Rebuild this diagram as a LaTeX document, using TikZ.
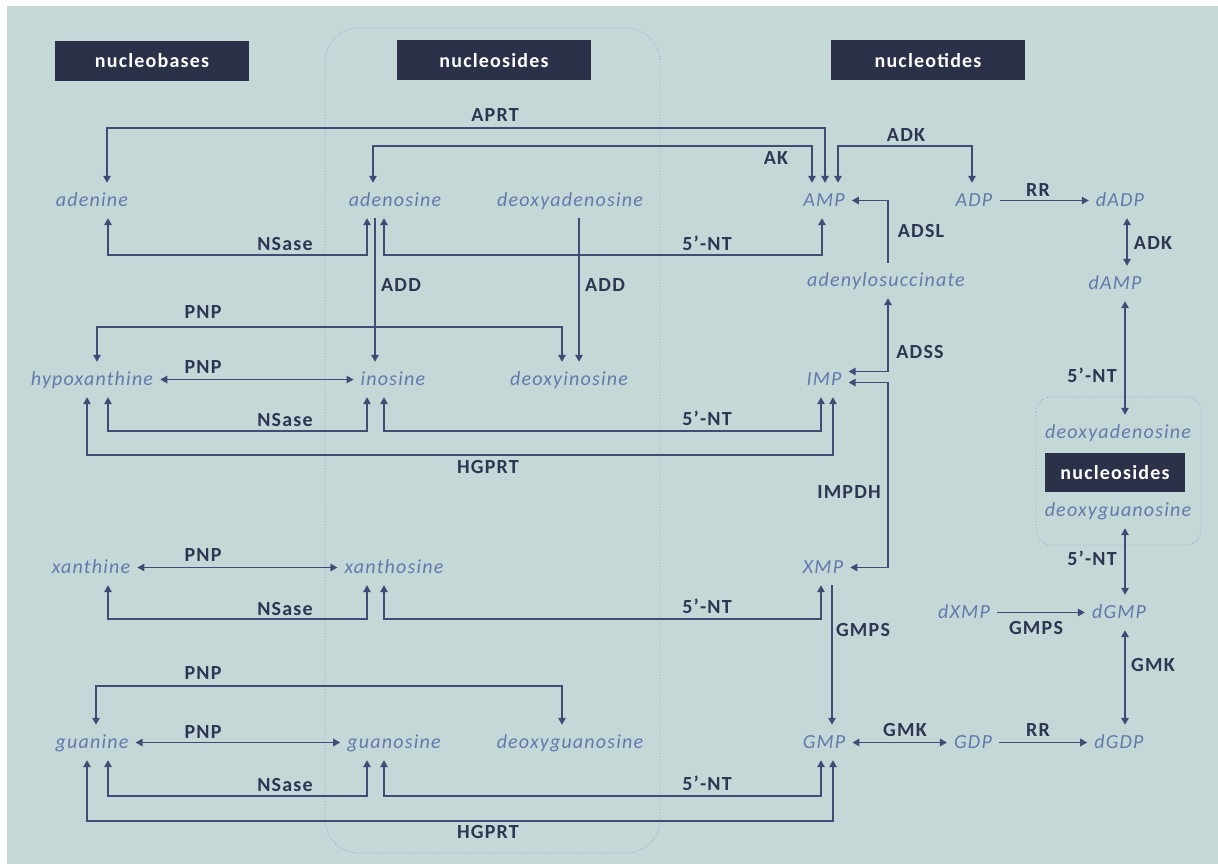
\documentclass[tikz,border=0pt]{standalone}
\usepackage{fontspec}
\setmainfont{Carlito}
\newfontfamily\spf[LetterSpace=6]{Carlito}
\usetikzlibrary{arrows.meta}
\definecolor{bgc}{HTML}{C5D8D8}
\definecolor{spc}{HTML}{6479AC}
\definecolor{linec}{HTML}{3E4D75}
\definecolor{lblc}{HTML}{2D3652}
\definecolor{hdrc}{HTML}{2B3148}
\definecolor{boxc}{HTML}{8FA6CF}
\begin{document}
\begin{tikzpicture}[x=1pt,y=-1pt,
  >={Triangle[length=7pt,width=7.5pt]},
  sp/.style={anchor=base,font=\spf\itshape\fontsize{20}{24}\selectfont,text=spc,
     text height=22pt,text depth=11pt,inner ysep=1pt,inner xsep=7pt},
  lbl/.style={font=\spf\bfseries\fontsize{20}{24}\selectfont,text=lblc,inner sep=0pt},
  hdr/.style={fill=hdrc,text=white,font=\spf\bfseries\fontsize{20}{24}\selectfont,
     minimum width=194pt,minimum height=40pt,inner sep=0pt},
  con/.style={draw=linec,line width=1.4pt},
  grp/.style={draw=boxc,dotted,line width=0.8pt}]
\useasboundingbox (0,0) rectangle (1218,864);
\fill[bgc] (7,6) rectangle (1218,864);
% group boxes
\draw[grp,rounded corners=34pt] (325,28) rectangle (660,853);
\draw[grp,rounded corners=15pt] (1036,397) rectangle (1201,545);
% headers
\node[hdr] (hb) at (152,61) {nucleobases};
\node[hdr] (hs) at (494,60.5) {nucleosides};
\node[hdr] (ht) at (928,60.5) {nucleotides};
\node[hdr,minimum width=140pt,minimum height=39pt] (hs2) at (1115,472.5) {nucleosides};
% species
\node[sp] (adenine) at (92,206) {adenine};
\node[sp] (adenosine) at (395,206) {adenosine};
\node[sp] (dAdo) at (570,206) {deoxyadenosine};
\node[sp] (AMP) at (824,206) {AMP};
\node[sp] (ADP) at (974,206) {ADP};
\node[sp] (dADP) at (1120,206) {dADP};
\node[sp] (adsuc) at (886,286) {adenylosuccinate};
\node[sp] (dAMP) at (1115,289) {dAMP};
\node[sp] (hyp) at (92,385) {hypoxanthine};
\node[sp] (ino) at (393,385) {inosine};
\node[sp] (dIno) at (569,385) {deoxyinosine};
\node[sp] (IMP) at (824,385) {IMP};
\node[sp] (dAdo2) at (1118,438) {deoxyadenosine};
\node[sp] (dGuo2) at (1118,516) {deoxyguanosine};
\node[sp] (xan) at (91,573) {xanthine};
\node[sp] (xao) at (394,573) {xanthosine};
\node[sp] (XMP) at (823,573) {XMP};
\node[sp] (dXMP) at (964,618) {dXMP};
\node[sp] (dGMP) at (1119,618) {dGMP};
\node[sp] (gua) at (92,748) {guanine};
\node[sp] (guo) at (394,748) {guanosine};
\node[sp] (dGuo) at (570,748) {deoxyguanosine};
\node[sp] (GMP) at (824,748) {GMP};
\node[sp] (GDP) at (973,748) {GDP};
\node[sp] (dGDP) at (1119,748) {dGDP};
% connectors - adenine block
\draw[con,<->] (adenine.north -| 107,0) -- (107,128) -| (AMP.north -| 825,0);
\draw[con,<->] (adenosine.north -| 373,0) -- (373,146) -| (AMP.north -| 812,0);
\draw[con,<->] (AMP.north -| 838,0) -- (838,146) -| (ADP.north -| 972,0);
\draw[con,<->] (adenine.south -| 108,0) -- (108,255) -| (adenosine.south -| 367,0);
\draw[con,<->] (adenosine.south -| 384,0) -- (384,255) -| (AMP.south -| 822,0);
\draw[con,->] (adenosine.south -| 375,0) -- (ino.north -| 375,0);
\draw[con,->] (dAdo.south -| 579,0) -- (dIno.north -| 579,0);
\draw[con,->] (ADP.east) -- (dADP.west);
\draw[con,<->] (dADP.south -| 1127,0) -- (dAMP.north -| 1127,0);
\draw[con,<->] (dAMP.south -| 1125,0) -- (dAdo2.north -| 1125,0);
\draw[con,->] (adsuc.north -| 888,0) |- (AMP.east);
\draw[con,<->] (adsuc.south -| 888,0) |- ([yshift=8pt]IMP.east);
% hypoxanthine block
\draw[con,<->] (hyp.north -| 97,0) -- (97,327) -| (dIno.north -| 562,0);
\draw[con,<->] (hyp.east) -- (ino.west);
\draw[con,<->] (hyp.south -| 108,0) -- (108,431) -| (ino.south -| 367,0);
\draw[con,<->] (ino.south -| 384,0) -- (384,431) -| (IMP.south -| 821,0);
\draw[con,<->] (hyp.south -| 87,0) -- (87,455) -| (IMP.south -| 833,0);
\draw[con,<->] ([yshift=-3pt]IMP.east) -| (888,475) |- (XMP.east);
% xanthine block
\draw[con,<->] (xan.east) -- (xao.west);
\draw[con,<->] (xan.south -| 108,0) -- (108,619) -| (xao.south -| 367,0);
\draw[con,<->] (xao.south -| 384,0) -- (384,619) -| (XMP.south -| 821,0);
\draw[con,->] (XMP.south -| 832,0) -- (GMP.north -| 832,0);
% guanine block
\draw[con,<->] (gua.north -| 96,0) -- (96,686) -| (dGuo.north -| 562,0);
\draw[con,<->] (gua.east) -- (guo.west);
\draw[con,<->] (gua.south -| 108,0) -- (108,796) -| (guo.south -| 367,0);
\draw[con,<->] (guo.south -| 384,0) -- (384,796) -| (GMP.south -| 821,0);
\draw[con,<->] (gua.south -| 87,0) -- (87,821) -| (GMP.south -| 833,0);
\draw[con,<->] (GMP.east) -- (GDP.west);
\draw[con,->] (GDP.east) -- (dGDP.west);
\draw[con,<->] (dGMP.south -| 1125,0) -- (dGDP.north -| 1125,0);
\draw[con,->] (dXMP.east) -- (dGMP.west);
\draw[con,<->] (dGuo2.south -| 1125,0) -- (dGMP.north -| 1125,0);
% enzyme labels
\node[lbl] (lAPRT) at (495,115) {APRT};
\node[lbl] (lAK) at (776,158) {AK};
\node[lbl] (lADK1) at (906,135) {ADK};
\node[lbl] (lRR1) at (1038,190) {RR};
\node[lbl] (lNS1) at (285,244) {NSase};
\node[lbl] (lNT1) at (707,243) {5’-NT};
\node[lbl] (lADSL) at (921,231) {ADSL};
\node[lbl] (lADK2) at (1153,243) {ADK};
\node[lbl] (lADD1) at (401,285) {ADD};
\node[lbl] (lADD2) at (605,285) {ADD};
\node[lbl] (lPNP1) at (203,312) {PNP};
\node[lbl] (lADSS) at (920,352) {ADSS};
\node[lbl] (lPNP2) at (203,367) {PNP};
\node[lbl] (lNT5a) at (1092,375) {5’-NT};
\node[lbl] (lNS2) at (285,420) {NSase};
\node[lbl] (lNT2) at (707,418) {5’-NT};
\node[lbl] (lHG1) at (488,467) {HGPRT};
\node[lbl] (lIMPDH) at (849,492) {IMPDH};
\node[lbl] (lPNP3) at (203,555) {PNP};
\node[lbl] (lNT5b) at (1092,558) {5’-NT};
\node[lbl] (lNS3) at (285,609) {NSase};
\node[lbl] (lNT3) at (707,606) {5’-NT};
\node[lbl] (lGMPS1) at (863,630) {GMPS};
\node[lbl] (lGMPS2) at (1036,628) {GMPS};
\node[lbl] (lGMK2) at (1153,665) {GMK};
\node[lbl] (lPNP4) at (203,673) {PNP};
\node[lbl] (lPNP5) at (203,732) {PNP};
\node[lbl] (lGMK1) at (905,730) {GMK};
\node[lbl] (lRR2) at (1038,730) {RR};
\node[lbl] (lNS4) at (285,785) {NSase};
\node[lbl] (lNT4) at (707,783) {5’-NT};
\node[lbl] (lHG2) at (488,832) {HGPRT};
\end{tikzpicture}
\end{document}
